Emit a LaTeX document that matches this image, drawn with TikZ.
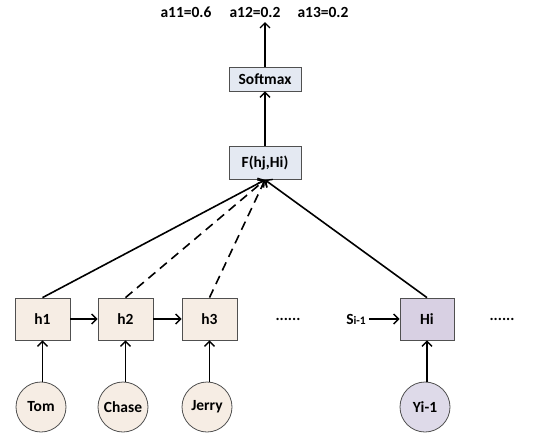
\documentclass[tikz,border=0pt]{standalone}
\usepackage{fontspec}
\setmainfont{Carlito}
\usetikzlibrary{arrows.meta}
\definecolor{encfill}{HTML}{F6EDE4}
\definecolor{decfill}{HTML}{D8D0E3}
\definecolor{decin}{HTML}{DEDAE9}
\definecolor{topfill}{HTML}{E4E9F2}
\definecolor{edgegray}{HTML}{505050}
\begin{document}
\begin{tikzpicture}[x=1pt,y=-1pt,
    font=\fontsize{15.5}{18}\selectfont\bfseries,
    box/.style={draw=edgegray, line width=0.8pt, inner sep=0pt},
    hbox/.style={box, fill=encfill, minimum width=55pt, minimum height=42pt},
    word/.style={circle, draw=edgegray, line width=0.8pt, fill=encfill, minimum size=50pt, inner sep=0pt},
    topbox/.style={box, fill=topfill, minimum width=72pt},
    arr/.style={line width=1.6pt, -{Straight Barb[length=5pt,width=10pt,line width=1.4pt]}}]
        \useasboundingbox (0,0) rectangle (541,440);
        % Top part
        \node[topbox, minimum height=24pt] (soft) at (265,79) {Softmax};
        \node[topbox, minimum height=33pt] (f) at (265,163) {F(hj,Hi)};
        \coordinate (out) at (265,22);
        \node (a11) at (186,12) {a11=0.6};
        \node (a12) at (255,12) {a12=0.2};
        \node (a13) at (323,12) {a13=0.2};
        \draw[arr] (soft) -- (out);
        \draw[arr] (f) -- (soft);
        % Encoder states
        \node[hbox] (h1) at (42.5,319) {h1};
        \node[hbox] (h2) at (125.5,319) {h2};
        \node[hbox] (h3) at (209.5,319) {h3};
        \node (dots1) at (288,319) {......};
        \node[word] (tom) at (41,407) {Tom};
        \node[word] (chase) at (123,407) {Chase};
        \node[word] (jerry) at (207,407) {Jerry};
        \draw[arr] (h1) -- (h2);
        \draw[arr] (h2) -- (h3);
        \draw[arr] (h1.south |- tom.north) -- (h1);
        \draw[arr] (h2.south |- chase.north) -- (h2);
        \draw[arr] (h3.south |- jerry.north) -- (h3);
        % Decoder state
        \node[hbox, fill=decfill, minimum width=54pt] (hi) at (427,319) {Hi};
        \node[word, fill=decin] (yi) at (425,407) {Yi-1};
        \node (si) at (356,319) {S{\fontsize{11.5}{13}\selectfont i-1}};
        \node (dots2) at (502,319) {......};
        \draw[arr] (si) -- (hi);
        \draw[arr] (hi.south |- yi.north) -- (hi);
        % Scores
        \draw[arr] (h1.north) -- (f.south);
        \draw[arr, dash pattern=on 9pt off 6pt] (h2.north) -- (f.south);
        \draw[arr, dash pattern=on 9pt off 6pt] (h3.north) -- (f.south);
        \draw[arr] (hi.north) -- (f.south);
    \end{tikzpicture}
\end{document}
